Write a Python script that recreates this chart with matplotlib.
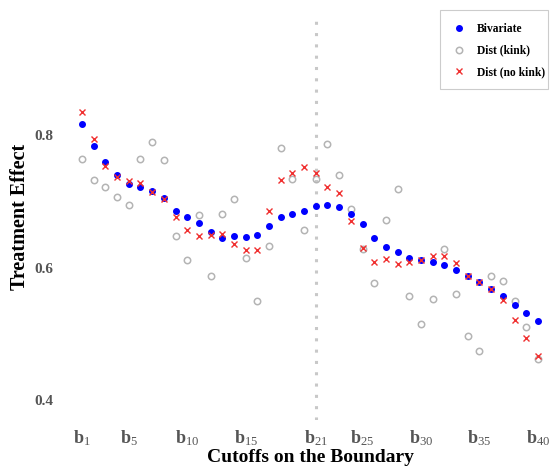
import matplotlib
matplotlib.use("Agg")
import matplotlib.pyplot as plt
from matplotlib.patches import Rectangle
import numpy as np

plt.rcParams['font.family'] = ['Liberation Serif', 'DejaVu Serif']
plt.rcParams['mathtext.fontset'] = 'custom'
plt.rcParams['mathtext.rm'] = 'Liberation Serif'
plt.rcParams['mathtext.bf'] = 'Liberation Serif:bold'
plt.rcParams['mathtext.it'] = 'Liberation Serif:italic'

cutoffs = list(range(1, 41))

bivariate = [0.816, 0.784, 0.759, 0.740, 0.726, 0.721, 0.716, 0.705, 0.686, 0.676,
             0.667, 0.653, 0.645, 0.647, 0.646, 0.649, 0.663, 0.676, 0.681, 0.685,
             0.693, 0.694, 0.692, 0.681, 0.665, 0.645, 0.631, 0.623, 0.615, 0.611,
             0.609, 0.604, 0.596, 0.588, 0.578, 0.568, 0.557, 0.543, 0.532, 0.519]

dist_kink = [0.764, 0.732, 0.722, 0.706, 0.695, 0.764, 0.789, 0.763, 0.647, 0.612,
             0.679, 0.587, 0.681, 0.704, 0.615, 0.549, 0.632, 0.780, 0.734, 0.657,
             0.733, 0.787, 0.739, 0.689, 0.628, 0.577, 0.671, 0.719, 0.557, 0.515,
             0.552, 0.628, 0.560, 0.497, 0.474, 0.587, 0.580, 0.550, 0.510, 0.462]

dist_nokink = [0.834, 0.794, 0.753, 0.736, 0.730, 0.727, 0.714, 0.704, 0.677, 0.657,
               0.647, 0.649, 0.651, 0.635, 0.627, 0.627, 0.685, 0.732, 0.742, 0.752,
               0.742, 0.721, 0.713, 0.670, 0.630, 0.609, 0.613, 0.605, 0.609, 0.611,
               0.617, 0.618, 0.607, 0.588, 0.578, 0.568, 0.551, 0.521, 0.493, 0.467]

tick_positions = [1, 5, 10, 15, 21, 25, 30, 35, 40]
tick_labels = [r'$\mathbf{b}_{%d}$' % t for t in tick_positions]
kink_cutoff = 21

fig = plt.figure(figsize=(5.53, 4.68), dpi=100)
ax = fig.add_axes([0.1271, 0.1026, 0.8668, 0.8674])

ax.axvline(kink_cutoff, color='#c8c8c8', lw=2.2, linestyle=(0, (1, 2.7)), zorder=1)

ax.plot(cutoffs, bivariate, 'o', color='#0000ff', ms=4.0, mec='#0000ff', lw=0,
        label='Bivariate', zorder=3)
ax.plot(cutoffs, dist_kink, 'o', mfc='none', mec='#b4b4b4', mew=1.1, ms=4.6, lw=0,
        label='Dist (kink)', zorder=2)
ax.plot(cutoffs, dist_nokink, 'x', color='#f03030', mew=1.0, ms=4.6, lw=0,
        label='Dist (no kink)', zorder=4)

ax.set_xlim(0, 41)
ax.set_ylim(0.370, 0.9825)
ax.set_xticks(tick_positions)
ax.set_xticklabels(tick_labels, fontsize=13, color='#555555')
ax.set_yticks([0.4, 0.6, 0.8])
ax.set_yticklabels(['0.4', '0.6', '0.8'], fontsize=11, fontweight='bold', color='#555555')
ax.tick_params(axis='both', length=0)
ax.tick_params(axis='y', pad=12.5)
ax.tick_params(axis='x', pad=6)
for s in ax.spines.values():
    s.set_visible(False)

ax.set_xlabel('Cutoffs on the Boundary', fontsize=14, fontweight='bold', labelpad=1)
ax.set_ylabel('Treatment Effect', fontsize=14.5, fontweight='bold')
ax.yaxis.set_label_coords(-0.085, 0.5)

leg = ax.legend(loc='upper right', bbox_to_anchor=(0.9904, 0.9778),
                prop={'weight': 'bold', 'size': 8.3}, frameon=False,
                borderpad=0, labelspacing=0.83,
                handlelength=1.74, handletextpad=0.7, borderaxespad=0)
leg.set_zorder(10)

fig.canvas.draw()
bb = leg.get_window_extent()
W, H = fig.bbox.width, fig.bbox.height
x0 = bb.x0 - 9
x1 = bb.x1 + 3
y0 = bb.y0 - 11
y1 = bb.y1 + 13
frame = Rectangle((x0 / W, y0 / H), (x1 - x0) / W, (y1 - y0) / H,
                  transform=fig.transFigure, facecolor='white',
                  edgecolor='#cccccc', lw=0.8, zorder=9, clip_on=False)
ax.add_patch(frame)

fig.savefig('out.png', dpi=100)
